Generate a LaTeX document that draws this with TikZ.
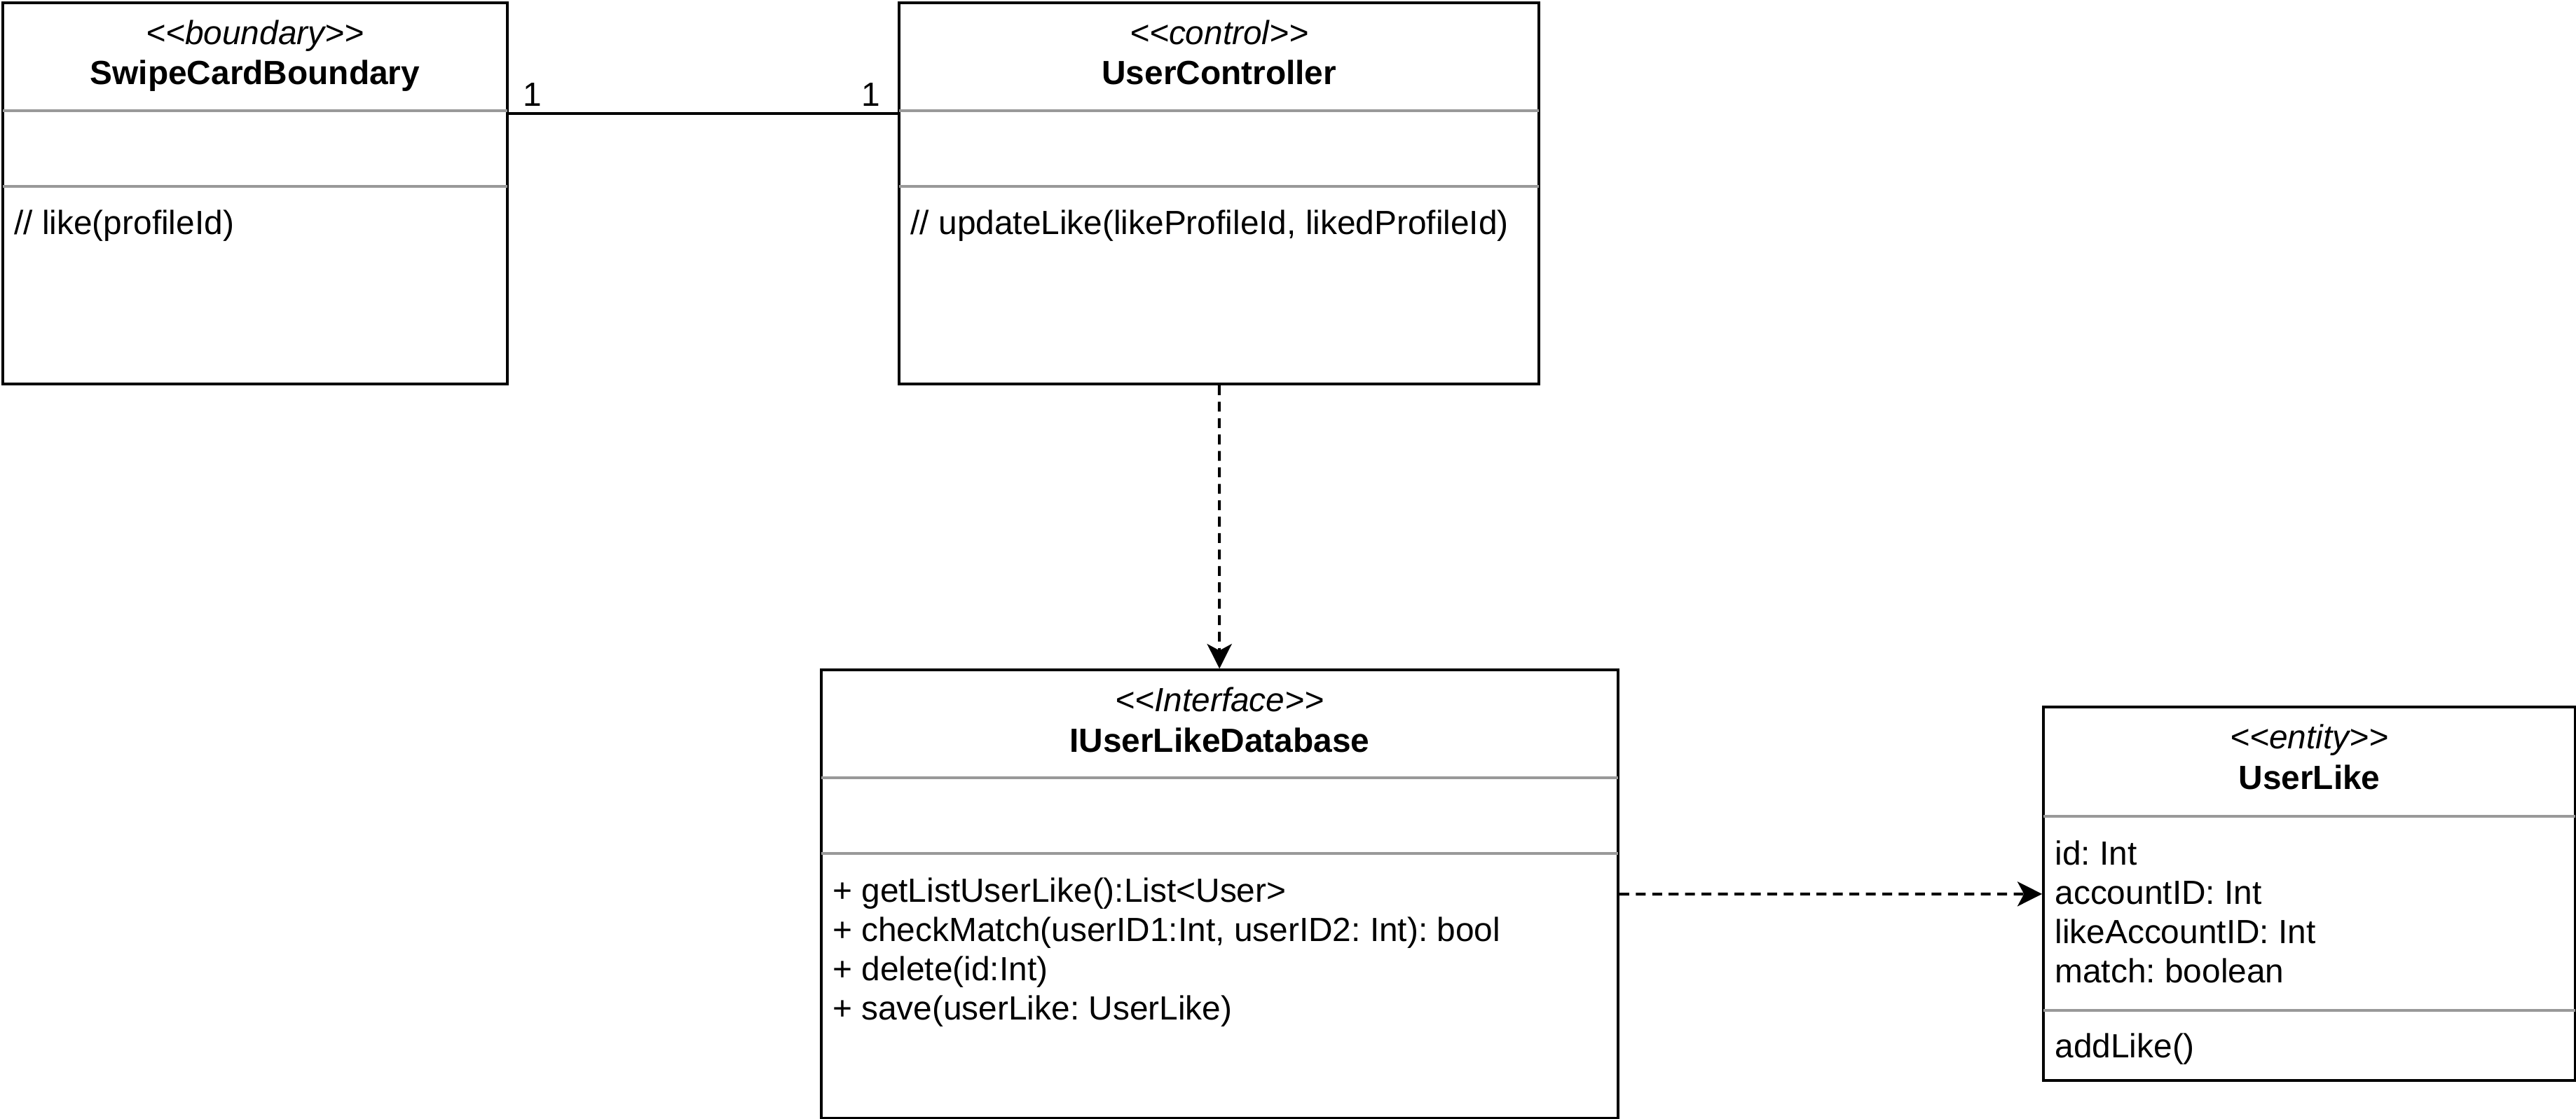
\documentclass[tikz,border=0pt]{standalone}
\usepackage{fontspec}
\setmainfont{Liberation Sans}
\usetikzlibrary{arrows.meta}
\definecolor{sepgray}{HTML}{999999}
\def\umlfont{\fontsize{20.4}{23.8}\selectfont\frenchspacing}
\def\stl{<\kern0pt<}
\def\str{>\kern0pt>}
\def\sepat#1#2{\draw[sepgray,shorten <=0.85pt,shorten >=0.85pt] ([yshift=-#2pt]#1.north west) -- ([yshift=-#2pt]#1.north east);}

\begin{document}
\begin{tikzpicture}[x=1pt,y=-1pt,line width=1.7pt,
    box/.style={draw,anchor=north west,inner sep=0pt},
    hd/.style={font=\umlfont,inner sep=0pt,anchor=base},
    txt/.style={font=\umlfont,inner sep=0pt,anchor=base west,align=left},
    dep/.style={dash pattern=on 6pt off 4pt,-{Stealth[length=15pt,width=15pt,inset=4pt]}}]
  \useasboundingbox (0,0) rectangle (1568,681);
  % classes
  \node[box,minimum width=307pt,minimum height=232pt] (swipe) at (0.85,0.85) {};
  \node[box,minimum width=389.5pt,minimum height=232pt] (ctrl) at (546.5,0.85) {};
  \node[box,minimum width=485pt,minimum height=273pt] (db) at (499,407) {};
  \node[box,minimum width=323.7pt,minimum height=227.4pt] (like) at (1243,429.6) {};
  \sepat{swipe}{66.5} \sepat{swipe}{112.5}
  \sepat{ctrl}{66.5} \sepat{ctrl}{112.5}
  \sepat{db}{66.5} \sepat{db}{112.5}
  \sepat{like}{67.4} \sepat{like}{185.4}
  % headers
  \node[hd,font=\umlfont\itshape] (swipe-st) at ([yshift=-26.2pt]swipe.north) {\stl boundary\str};
  \node[hd,font=\umlfont\bfseries] (swipe-nm) at ([yshift=-50.7pt]swipe.north) {SwipeCardBoundary};
  \node[hd,font=\umlfont\itshape] (ctrl-st) at ([yshift=-26.2pt]ctrl.north) {\stl control\str};
  \node[hd,font=\umlfont\bfseries] (ctrl-nm) at ([yshift=-50.7pt]ctrl.north) {UserController};
  \node[hd,font=\umlfont\itshape] (db-st) at ([yshift=-26.2pt]db.north) {\stl Interface\str};
  \node[hd,font=\umlfont\bfseries] (db-nm) at ([yshift=-50.7pt]db.north) {IUserLikeDatabase};
  \node[hd,font=\umlfont\itshape] (like-st) at ([yshift=-26.2pt]like.north) {\stl entity\str};
  \node[hd,font=\umlfont\bfseries] (like-nm) at ([yshift=-50.7pt]like.north) {UserLike};
  % members (base = last line)
  \node[txt] (swipe-op) at ([xshift=7pt,yshift=-142pt]swipe.north west) {// like(profileId)};
  \node[txt] (ctrl-op) at ([xshift=7pt,yshift=-142pt]ctrl.north west) {// updateLike(likeProfileId, likedProfileId)};
  \node[txt] (db-op) at ([xshift=7pt,yshift=-213.7pt]db.north west)
    {+ getListUserLike():List<User>\\+ checkMatch(userID1:Int, userID2: Int): bool\\+ delete(id:Int)\\+ save(userLike: UserLike)};
  \node[txt] (like-at) at ([xshift=7pt,yshift=-168.5pt]like.north west)
    {id: Int\\accountID: Int\\likeAccountID: Int\\match: boolean};
  \node[txt] (like-op) at ([xshift=7pt,yshift=-214.4pt]like.north west) {addLike()};
  % connectors
  \draw ([yshift=-68.2pt]swipe.north east) -- ([yshift=-68.2pt]ctrl.north west)
    node[txt,pos=0,xshift=8pt,yshift=4.3pt] (m1) {1}
    node[txt,anchor=base east,pos=1,xshift=-10pt,yshift=4.3pt] (m2) {1};
  \draw[dep] (ctrl) -- (db);
  \draw[dep] (db) -- (like);
\end{tikzpicture}
\end{document}
